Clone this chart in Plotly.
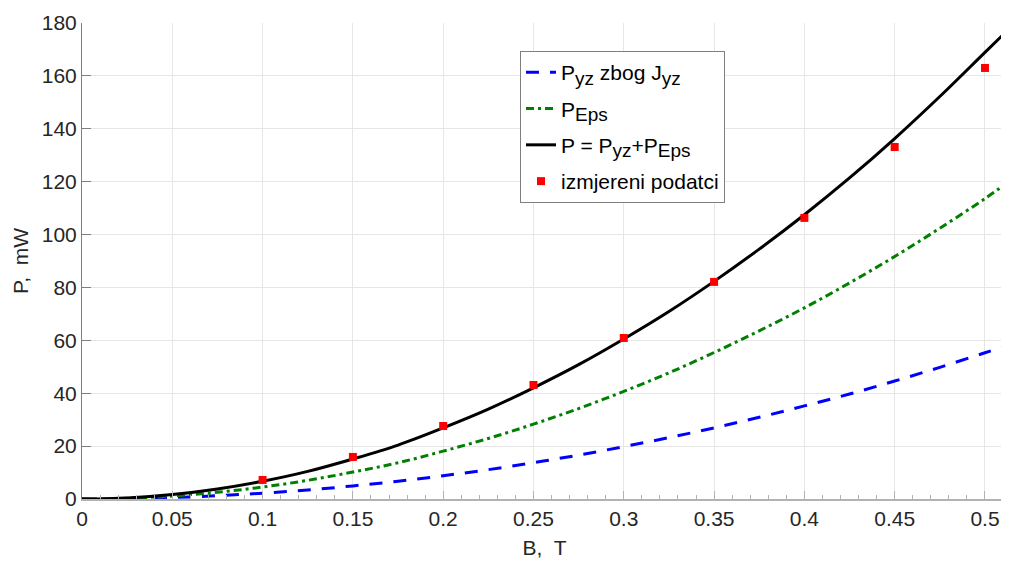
import plotly.graph_objects as go

# Curve sample points (B in T)
B_curve = [0, 0.025, 0.05, 0.075, 0.1, 0.125, 0.15, 0.175, 0.2, 0.225, 0.25,
           0.275, 0.3, 0.325, 0.35, 0.375, 0.4, 0.425, 0.45, 0.475, 0.5, 0.5122]
P_yz = [0, 0.14, 0.55, 1.24, 2.2, 3.4, 4.95, 6.7, 8.8, 11.1, 13.75,
        16.6, 19.8, 23.2, 26.9, 30.9, 35.2, 39.7, 44.6, 49.8, 55.3, 58.0]
P_eps = [0, 0.28, 1.13, 2.54, 4.52, 7.06, 10.2, 13.7, 18.1, 22.9, 28.3,
         34.2, 40.7, 47.7, 55.4, 63.6, 72.3, 81.7, 91.7, 102.4, 113.6, 119.5]
P_total = [0, 0.42, 1.68, 3.78, 6.72, 10.46, 15.15, 20.4, 26.9, 34.0, 42.05,
           50.8, 60.5, 70.9, 82.3, 94.5, 107.5, 121.4, 136.3, 152.2, 168.9, 177.0]

# Measured data
B_meas = [0.1, 0.15, 0.2, 0.25, 0.3, 0.35, 0.4, 0.45, 0.5]
P_meas = [7.2, 15.9, 27.6, 43.1, 60.9, 82.1, 106.3, 133.1, 163.0]

x_ticks = [0, 0.05, 0.1, 0.15, 0.2, 0.25, 0.3, 0.35, 0.4, 0.45, 0.5]
x_tick_text = ["0", "0.05", "0.1", "0.15", "0.2", "0.25", "0.3", "0.35", "0.4", "0.45", "0.5"]
y_ticks = [0, 20, 40, 60, 80, 100, 120, 140, 160, 180]

FONT = "Liberation Sans, Arial, Helvetica, sans-serif"


def sub(s):
    return "<sub><span style='font-size:19px'>" + s + "</span></sub>"


fig = go.Figure()
fig.add_trace(go.Scatter(
    x=B_curve, y=P_yz, mode="lines", line_shape="spline", legendgroup="a",
    name="P" + sub("yz") + " zbog J" + sub("yz"),
    line=dict(color="#0000ff", width=3, dash="13px,11px")))
fig.add_trace(go.Scatter(
    x=B_curve, y=P_eps, mode="lines", line_shape="spline", legendgroup="b",
    name="P" + sub("Eps"),
    line=dict(color="#008000", width=3, dash="8px,4px,3px,4px")))
fig.add_trace(go.Scatter(
    x=B_curve, y=P_total, mode="lines", line_shape="spline", legendgroup="c",
    name="P = P" + sub("yz") + "+P" + sub("Eps"),
    line=dict(color="#000000", width=3)))
fig.add_trace(go.Scatter(
    x=B_meas, y=P_meas, mode="markers", legendgroup="d",
    name="izmjereni podatci",
    marker=dict(symbol="square", size=8, color="#ff0000")))

fig.update_layout(
    width=1001, height=553,
    margin=dict(l=74, r=2, t=15, b=62),
    paper_bgcolor="white", plot_bgcolor="white",
    font=dict(family=FONT, size=21, color="#262626"),
    legend=dict(
        x=0.4735, y=0.941, xanchor="left", yanchor="top",
        bgcolor="white", bordercolor="#7f7f7f", borderwidth=1,
        font=dict(family=FONT, size=21, color="#000000"),
        itemwidth=30, tracegroupgap=6,
    ),
    xaxis=dict(
        range=[0, 0.5122], tickmode="array", tickvals=x_ticks, ticktext=x_tick_text,
        showgrid=True, gridcolor="#e6e6e6", gridwidth=1,
        zeroline=False, showline=True, linecolor="#b3b3b3", linewidth=2,
        ticks="inside", ticklen=8, tickcolor="#b3b3b3", tickwidth=1,
        minor=dict(dtick=0.01, tick0=0, ticks="inside", ticklen=4,
                   tickcolor="#b3b3b3", showgrid=False),
        tickfont=dict(size=21, color="#262626"),
        title=dict(text="B,  T", font=dict(size=21, color="#262626"), standoff=11),
    ),
    yaxis=dict(
        range=[0, 180], tickmode="array", tickvals=y_ticks,
        showgrid=True, gridcolor="#e6e6e6", gridwidth=1,
        zeroline=False, showline=True, linecolor="#7f7f7f", linewidth=1,
        ticks="inside", ticklen=9, tickcolor="#7f7f7f", tickwidth=1,
        tickfont=dict(size=21, color="#262626"),
        title=dict(text="P,  mW", font=dict(size=21, color="#262626"), standoff=7),
    ),
)

fig.write_html("out.html")
